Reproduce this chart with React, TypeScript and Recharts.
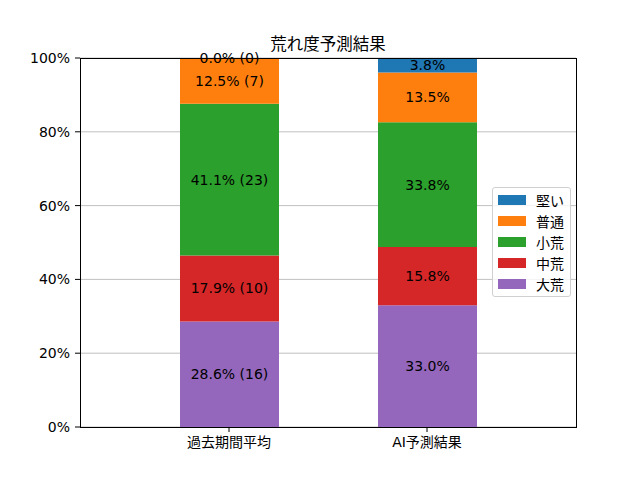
import React from 'react'
import { BarChart, Bar, XAxis, YAxis, CartesianGrid, LabelList } from 'recharts'

document.body.style.margin = '0'

const FONT = '"DejaVu Sans", "Noto Sans CJK JP", sans-serif'

const CATEGORIES = ['過去期間平均', 'AI予測結果']
// stack order, bottom to top
const SERIES = ['大荒', '中荒', '小荒', '普通', '堅い']
const COLORS = ['#9467bd', '#d62728', '#2ca02c', '#ff7f0e', '#1f77b4']
const PAST_PCT = [28.6, 17.9, 41.1, 12.5, 0.0]
const PAST_COUNT = [16, 10, 23, 7, 0]
const AI_PCT = [33.0, 15.8, 33.8, 13.5, 3.8]
const Y_TICKS = [0, 20, 40, 60, 80, 100]

const data = CATEGORIES.map((name, ci) => {
  const row: Record<string, any> = { name }
  SERIES.forEach((s, si) => {
    const v = ci === 0 ? PAST_PCT[si] : AI_PCT[si]
    row[s] = v
    row[s + '_label'] = ci === 0 ? `${v.toFixed(1)}% (${PAST_COUNT[si]})` : `${v.toFixed(1)}%`
  })
  // a zero-height top segment gets no rect, so its label rides on the segment below
  const top = SERIES[SERIES.length - 1]
  row.zero_top = row[top] === 0 ? row[top + '_label'] : null
  return row
})

const renderLabel = (pos: 'center' | 'top') => (props: any) => {
  const { x, y, width, height, value } = props
  if (value == null) return null
  const cy = pos === 'center' ? y + height / 2 : y
  return (
    <text x={x + width / 2} y={cy} textAnchor="middle" dominantBaseline="central"
      fontSize={14} fontFamily={FONT} fill="#000">
      {value}
    </text>
  )
}

export default function App() {
  return (
    <div style={{ position: 'relative', width: 640, height: 480, background: '#fff', fontFamily: FONT }}>
      <div style={{ position: 'absolute', left: 80, width: 496, top: 31, textAlign: 'center', fontSize: 16.5 }}>
        荒れ度予測結果
      </div>
      <BarChart width={640} height={480} data={data}
        margin={{ top: 58, right: 64, bottom: 23, left: 20 }} barSize={99}>
        <CartesianGrid vertical={false} stroke="#b0b0b0" strokeWidth={0.8} />
        <XAxis dataKey="name" padding={{ left: 50, right: 50 }} height={30}
          axisLine={false} tickLine={{ stroke: '#000' }} tickSize={5} tickMargin={5}
          tick={{ fill: '#000', fontSize: 14, fontFamily: FONT }} />
        <YAxis domain={[0, 100]} ticks={Y_TICKS} allowDataOverflow width={60}
          tickFormatter={(v: number) => `${v}%`}
          axisLine={false} tickLine={{ stroke: '#000' }} tickSize={5} tickMargin={5}
          tick={{ fill: '#000', fontSize: 14, fontFamily: FONT }} />
        {SERIES.map((s, si) => (
          <Bar key={s} dataKey={s} stackId="a" fill={COLORS[si]} isAnimationActive={false}>
            <LabelList dataKey={s + '_label'} content={renderLabel('center')} />
            {si === SERIES.length - 2 && <LabelList dataKey="zero_top" content={renderLabel('top')} />}
          </Bar>
        ))}
      </BarChart>
      {/* axes frame */}
      <div style={{
        position: 'absolute', left: 80, top: 58, width: 497, height: 370, boxSizing: 'border-box',
        border: '1px solid #000', pointerEvents: 'none',
      }} />
      <div style={{
        position: 'absolute', left: 492, top: 187, width: 79, height: 110, boxSizing: 'border-box',
        border: '1px solid #d0d0d0', borderRadius: 3, background: 'rgba(255,255,255,0.8)',
        padding: '1px 0 0 5px',
      }}>
        {[...SERIES].reverse().map((s) => {
          const c = COLORS[SERIES.indexOf(s)]
          return (
            <div key={s} style={{ display: 'flex', alignItems: 'center', height: 21, fontSize: 14 }}>
              <span style={{ width: 28, height: 10, background: c, display: 'inline-block', marginRight: 10 }} />
              <span>{s}</span>
            </div>
          )
        })}
      </div>
    </div>
  )
}
